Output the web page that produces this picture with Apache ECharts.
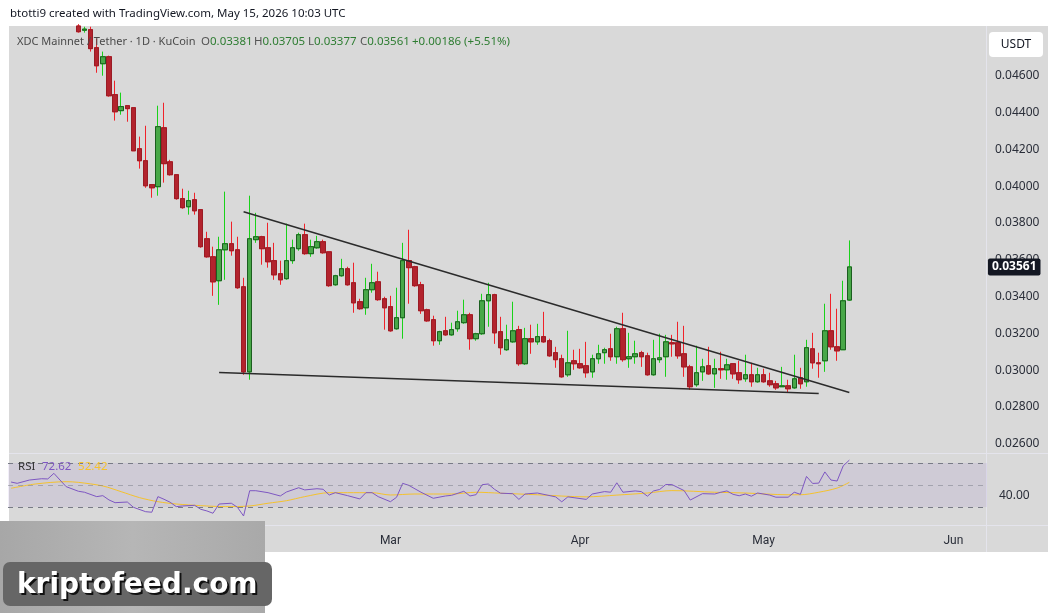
<!DOCTYPE html>
<html lang="en">
<head>
<meta charset="UTF-8">
<title>XDC / USDT 1D</title>
<script src="https://cdn.jsdelivr.net/npm/echarts@6.0.0/dist/echarts.min.js"></script>
<style>
  html, body { margin: 0; padding: 0; background: #fff; }
  #chart { width: 1057px; height: 613px; }
</style>
</head>
<body>
<div id="chart"></div>
<script>
// axis runs 160 days from 2025-12-29, first candle on 2026-01-09 (day 11)
const chartStart = Date.UTC(2025, 11, 29)
const dayCount = 160
const firstCandleDay = 11

const openPrices = [
  0.04870, 0.04847, 0.04850, 0.04752, 0.04665, 0.04703, 0.04497, 0.04410, 0.04437, 0.04426,
  0.04203, 0.04138, 0.04008, 0.03997, 0.04317, 0.04132, 0.04062, 0.03932, 0.03888, 0.03926,
  0.03872, 0.03714, 0.03616, 0.03486, 0.03654, 0.03687, 0.03654, 0.03453, 0.02991, 0.03709,
  0.03725, 0.03665, 0.03595, 0.03524, 0.03497, 0.03595, 0.03660, 0.03736, 0.03633, 0.03665,
  0.03698, 0.03643, 0.03464, 0.03513, 0.03551, 0.03475, 0.03372, 0.03339, 0.03437, 0.03480,
  0.03388, 0.03345, 0.03225, 0.03285, 0.03595, 0.03562, 0.03464, 0.03328, 0.03274, 0.03160,
  0.03214, 0.03192, 0.03225, 0.03258, 0.03301, 0.03171, 0.03198, 0.03377, 0.03410, 0.03209,
  0.03111, 0.03154, 0.03220, 0.03035, 0.03171, 0.03154, 0.03182, 0.03160, 0.03095, 0.03062,
  0.02975, 0.03051, 0.03035, 0.03024, 0.02991, 0.03062, 0.03095, 0.03116, 0.03073, 0.03225,
  0.03062, 0.03073, 0.03095, 0.03078, 0.02975, 0.03057, 0.03073, 0.03149, 0.03149, 0.03089,
  0.03018, 0.02921, 0.02991, 0.03024, 0.02980, 0.03008, 0.03002, 0.03035, 0.02986, 0.02953,
  0.02975, 0.02937, 0.02975, 0.02942, 0.02926, 0.02910, 0.02915, 0.02904, 0.02959, 0.02937,
  0.03116, 0.03040, 0.03051, 0.03214, 0.03127, 0.03111, 0.03381
]
const highPrices = [
  0.04880, 0.04866, 0.04866, 0.04801, 0.04731, 0.04709, 0.04573, 0.04508, 0.04437, 0.04426,
  0.04269, 0.04328, 0.04008, 0.04437, 0.04453, 0.04143, 0.04062, 0.03986, 0.03975, 0.03964,
  0.03872, 0.03752, 0.03671, 0.03725, 0.03970, 0.03807, 0.03725, 0.03502, 0.03948, 0.03855,
  0.03730, 0.03801, 0.03692, 0.03595, 0.03796, 0.03709, 0.03747, 0.03796, 0.03709, 0.03730,
  0.03709, 0.03643, 0.03518, 0.03605, 0.03562, 0.03584, 0.03388, 0.03502, 0.03578, 0.03535,
  0.03399, 0.03404, 0.03448, 0.03692, 0.03763, 0.03567, 0.03480, 0.03334, 0.03296, 0.03214,
  0.03290, 0.03258, 0.03323, 0.03383, 0.03312, 0.03203, 0.03415, 0.03475, 0.03415, 0.03290,
  0.03247, 0.03372, 0.03241, 0.03230, 0.03247, 0.03252, 0.03317, 0.03171, 0.03127, 0.03084,
  0.03214, 0.03111, 0.03116, 0.03154, 0.03084, 0.03138, 0.03122, 0.03198, 0.03236, 0.03312,
  0.03203, 0.03160, 0.03105, 0.03095, 0.03165, 0.03198, 0.03192, 0.03192, 0.03263, 0.03241,
  0.03029, 0.03133, 0.03062, 0.03127, 0.03062, 0.03100, 0.03062, 0.03035, 0.03051, 0.03084,
  0.03040, 0.03013, 0.03008, 0.02986, 0.02942, 0.03018, 0.02948, 0.03084, 0.03013, 0.03165,
  0.03203, 0.03095, 0.03361, 0.03415, 0.03334, 0.03486, 0.03705
]
const lowPrices = [
  0.04834, 0.04834, 0.04731, 0.04616, 0.04600, 0.04486, 0.04356, 0.04388, 0.04350, 0.04192,
  0.04095, 0.03991, 0.03937, 0.03948, 0.04019, 0.04057, 0.03926, 0.03877, 0.03845, 0.03845,
  0.03665, 0.03611, 0.03404, 0.03355, 0.03491, 0.03622, 0.03442, 0.02975, 0.02948, 0.03692,
  0.03573, 0.03557, 0.03491, 0.03464, 0.03491, 0.03578, 0.03649, 0.03627, 0.03616, 0.03660,
  0.03633, 0.03453, 0.03459, 0.03508, 0.03459, 0.03312, 0.03328, 0.03301, 0.03421, 0.03377,
  0.03220, 0.03209, 0.03220, 0.03171, 0.03361, 0.03453, 0.03306, 0.03263, 0.03133, 0.03138,
  0.03187, 0.03187, 0.03209, 0.03252, 0.03111, 0.03160, 0.03192, 0.03236, 0.03143, 0.03084,
  0.03105, 0.03149, 0.03024, 0.03029, 0.03089, 0.03138, 0.03149, 0.03073, 0.03013, 0.02959,
  0.02964, 0.03002, 0.03008, 0.02959, 0.02959, 0.03035, 0.03035, 0.03051, 0.03035, 0.03046,
  0.03013, 0.03035, 0.03018, 0.02970, 0.02970, 0.03040, 0.02964, 0.03073, 0.03062, 0.02964,
  0.02893, 0.02910, 0.02942, 0.02975, 0.02904, 0.02953, 0.02948, 0.02953, 0.02926, 0.02937,
  0.02910, 0.02932, 0.02932, 0.02910, 0.02893, 0.02910, 0.02877, 0.02899, 0.02899, 0.02910,
  0.03008, 0.02959, 0.02991, 0.03111, 0.03051, 0.03111, 0.03377
]
const closePrices = [
  0.04839, 0.04853, 0.04747, 0.04654, 0.04703, 0.04491, 0.04404, 0.04432, 0.04421, 0.04192,
  0.04138, 0.04002, 0.03991, 0.04323, 0.04122, 0.04062, 0.03932, 0.03883, 0.03921, 0.03866,
  0.03671, 0.03616, 0.03480, 0.03654, 0.03687, 0.03649, 0.03448, 0.02991, 0.03714, 0.03725,
  0.03660, 0.03589, 0.03518, 0.03491, 0.03595, 0.03665, 0.03736, 0.03633, 0.03671, 0.03698,
  0.03638, 0.03459, 0.03513, 0.03551, 0.03464, 0.03366, 0.03334, 0.03437, 0.03475, 0.03383,
  0.03339, 0.03214, 0.03285, 0.03595, 0.03557, 0.03459, 0.03323, 0.03268, 0.03160, 0.03209,
  0.03192, 0.03220, 0.03263, 0.03301, 0.03171, 0.03198, 0.03377, 0.03410, 0.03203, 0.03122,
  0.03165, 0.03214, 0.03035, 0.03171, 0.03154, 0.03182, 0.03154, 0.03078, 0.03057, 0.02964,
  0.03040, 0.03035, 0.03013, 0.02986, 0.03062, 0.03089, 0.03111, 0.03073, 0.03225, 0.03057,
  0.03073, 0.03089, 0.03073, 0.02975, 0.03062, 0.03067, 0.03154, 0.03143, 0.03078, 0.03018,
  0.02910, 0.02986, 0.03018, 0.02980, 0.03008, 0.03002, 0.03029, 0.02980, 0.02948, 0.02975,
  0.02937, 0.02975, 0.02937, 0.02921, 0.02904, 0.02915, 0.02899, 0.02953, 0.02926, 0.03122,
  0.03040, 0.03035, 0.03214, 0.03127, 0.03105, 0.03377, 0.03561
]

// RSI(14) and its moving average, read at the visible vertices (day = position on the axis)
const rsiDays = [0, 1, 3, 5, 6, 7, 8, 9, 11, 12, 14, 15, 16, 17, 19, 20, 22, 23, 24, 25,
  26, 27, 28, 30, 31, 32, 33, 34, 36, 37, 38, 39, 40, 42, 44, 45, 47, 48, 50, 51,
  52, 53, 55, 57, 58, 59, 60, 62, 63, 64, 65, 67, 69, 71, 72, 74, 75, 76, 77, 78,
  79, 80, 82, 83, 84, 86, 89, 90, 91, 94, 95, 97, 98, 99, 100, 102, 103, 104, 105, 106,
  107, 108, 110, 111, 113, 115, 116, 117, 118, 119, 120, 121, 122, 124, 125, 127, 128, 129, 130, 131,
  132, 133, 134, 135, 136, 137]
const rsiValues = [52.7, 51.5, 54.5, 55.7, 55.5, 60.6, 54.5, 48.5, 44.3, 43.4, 39.4, 40.3, 36.4, 33.9, 34.5, 29.7, 25.7, 25.2, 39.4, 37,
  34.3, 30.3, 30.9, 31.5, 27.9, 26.4, 24.3, 32.7, 33.4, 29.7, 21.8, 44.8, 44.8, 43, 40, 43.6, 47.5, 45.5, 46.6, 46.1,
  40.9, 43, 40.3, 37.3, 43, 43, 39.4, 34.8, 38.8, 51.5, 49.7, 43.4, 37.9, 40, 40.6, 44.3, 40, 41.2, 50.3, 50.9,
  46.1, 42.5, 42.1, 36.9, 41.8, 42.7, 39.2, 34.7, 39.2, 36.9, 41.8, 44, 43.4, 52, 43.4, 44.6, 44, 39.8, 44.6, 45.9,
  50.4, 50.4, 44.9, 36.3, 42.1, 41.8, 43.4, 44.6, 41.5, 40.2, 41.8, 39.8, 42.7, 40.8, 38.9, 38.9, 43.4, 41.5, 57.8, 51.4,
  51.7, 61.9, 54.5, 53.6, 67.4, 72.62]
const rsiMaDays = [0, 4, 9, 11, 15, 18, 21, 24, 27, 31, 35, 39, 42, 45, 48, 52, 55, 59, 62, 66,
  72, 76, 80, 86, 94, 99, 104, 108, 115, 120, 127, 129, 132, 135, 137]
const rsiMaValues = [47, 50.9, 53, 52.4, 49.1, 43.9, 38.5, 34.8, 32.7, 31.2, 30.3, 30.9, 33.4, 35.7, 39.4, 43, 43, 43, 40.9, 41.8,
  41.8, 43.4, 42.5, 41.1, 39.2, 40.8, 42.7, 44.9, 43.4, 42.7, 41.1, 41.1, 43.4, 47.2, 52.42]

// hand drawn wedge lines
const upperTrendDates = ['2026-02-05', '2026-05-15']
const upperTrendPrices = [0.03861, 0.02879]
const lowerTrendDates = ['2026-02-01', '2026-05-10']
const lowerTrendPrices = [0.02987, 0.02873]

const monthNames = ['Jan', 'Feb', 'Mar', 'Apr', 'May', 'Jun', 'Jul', 'Aug', 'Sep', 'Oct', 'Nov', 'Dec']
const lastPrice = 0.03561

const categories = []
for (let i = 0; i < dayCount; i++) {
  categories.push(new Date(chartStart + i * 86400000).toISOString().slice(0, 10))
}

const wickItems = openPrices.map((o, i) => [categories[firstCandleDay + i], o, closePrices[i], lowPrices[i], highPrices[i]])
const bodyItems = openPrices.map((o, i) => {
  const c = closePrices[i]
  return [categories[firstCandleDay + i], o, c, Math.min(o, c), Math.max(o, c)]
})
const rsiData = rsiDays.map((d, i) => [categories[d], rsiValues[i]])
const rsiMaData = rsiMaDays.map((d, i) => [categories[d], rsiMaValues[i]])

const font = "'Noto Sans', sans-serif"
const axisColor = '#2a2e39'
const upFill = '#48a848', upBorder = '#1c5e20', upWick = '#19d219'
const downFill = '#b3232d', downBorder = '#9a1c25', downWick = '#f0222a'

const chart = echarts.init(document.getElementById('chart'))

const legendPart = (x, key, val) => ({
  type: 'text', x: x, y: 42, z: 50,
  style: {
    text: '{k|' + key + '}{v|' + val + '}',
    textVerticalAlign: 'middle',
    rich: {
      k: { fill: '#555', font: '11.5px ' + font },
      v: { fill: '#2e7d32', font: '11.5px ' + font }
    }
  }
})

const option = {
  animation: false,
  backgroundColor: '#ffffff',
  textStyle: { fontFamily: font },
  grid: [
    { left: 8, right: 70, top: 26, height: 427 },
    { left: 8, right: 70, top: 453, height: 72 }
  ],
  xAxis: [
    {
      type: 'category', gridIndex: 0, data: categories,
      axisLine: { show: false }, axisTick: { show: false }, axisLabel: { show: false }, splitLine: { show: false }
    },
    {
      type: 'category', gridIndex: 1, data: categories,
      axisLine: { show: false }, axisTick: { show: false }, splitLine: { show: false },
      axisLabel: {
        interval: (idx, val) => val.slice(8) === '01',
        formatter: val => monthNames[+val.slice(5, 7) - 1],
        color: axisColor, fontSize: 12, margin: 10,
        fontFamily: "'Liberation Sans Narrow', 'Roboto', sans-serif"
      }
    }
  ],
  yAxis: [
    {
      type: 'value', gridIndex: 0, position: 'right',
      min: 0.0255, max: 0.0487, interval: 0.0001,
      axisLine: { show: false }, axisTick: { show: false }, splitLine: { show: false },
      axisLabel: {
        showMinLabel: false, showMaxLabel: false,
        formatter: v => Math.abs(v / 0.002 - Math.round(v / 0.002)) < 1e-6 ? v.toFixed(5) : '',
        color: axisColor, fontSize: 12, margin: 8
      }
    },
    {
      type: 'value', gridIndex: 1, position: 'right',
      min: 13.6, max: 79.1, interval: 0.2,
      axisLine: { show: false }, axisTick: { show: false }, splitLine: { show: false },
      axisLabel: {
        showMinLabel: false, showMaxLabel: false,
        formatter: v => Math.abs(v - 40) < 1e-6 ? '40.00' : '',
        color: axisColor, fontSize: 12, margin: 12
      }
    }
  ],
  graphic: [
    { type: 'rect', z: -10, shape: { x: 9, y: 26, width: 1039, height: 526 }, style: { fill: '#d9d9d9' } },
    { type: 'line', z: 1, shape: { x1: 986.5, y1: 26, x2: 986.5, y2: 552 }, style: { stroke: '#e4e4ec', lineWidth: 1 } },
    { type: 'line', z: 1, shape: { x1: 9, y1: 453.5, x2: 1048, y2: 453.5 }, style: { stroke: '#e4e4ec', lineWidth: 1 } },
    { type: 'line', z: 1, shape: { x1: 9, y1: 525.5, x2: 1048, y2: 525.5 }, style: { stroke: '#e4e4ec', lineWidth: 1 } },
    { type: 'rect', z: 50, shape: { x: 989, y: 32, width: 54, height: 25, r: 4 }, style: { fill: '#ffffff' } },
    { type: 'text', z: 51, x: 1016, y: 45, style: { text: 'USDT', fill: '#131722', font: '12px ' + font, textAlign: 'center', textVerticalAlign: 'middle' } },
    { type: 'text', z: 50, x: 10, y: 14, style: { text: 'btotti9 created with TradingView.com, May 15, 2026 10:03 UTC', fill: '#131722', font: '11.5px ' + font, textVerticalAlign: 'middle' } },
    { type: 'text', z: 50, x: 17, y: 42, style: { text: 'XDC Mainnet / Tether · 1D · KuCoin', fill: '#4a4a4a', font: '11px ' + font, textVerticalAlign: 'middle' } },
    legendPart(201, 'O', '0.03381'),
    legendPart(254, 'H', '0.03705'),
    legendPart(308, 'L', '0.03377'),
    legendPart(360, 'C', '0.03561'),
    { type: 'text', z: 50, x: 412, y: 42, style: { text: '+0.00186 (+5.51%)', fill: '#2e7d32', font: '11.5px ' + font, textVerticalAlign: 'middle' } },
    {
      type: 'text', z: 50, x: 18, y: 467,
      style: {
        text: '{a|RSI}  {b|72.62}  {c|52.42}', textVerticalAlign: 'middle',
        rich: {
          a: { fill: '#333', font: '11.5px ' + font },
          b: { fill: '#7e57c2', font: '11.5px ' + font },
          c: { fill: '#f5c22d', font: '11.5px ' + font }
        }
      }
    },
    // watermark
    {
      type: 'rect', z: 100, shape: { x: 0, y: 521, width: 265, height: 92 },
      style: {
        fill: { type: 'linear', x: 0, y: 0, x2: 1, y2: 0, colorStops: [
          { offset: 0, color: '#a7a7a7' }, { offset: 0.5, color: '#b6b6b6' }, { offset: 1, color: '#a9a9a9' }
        ] }
      }
    },
    { type: 'rect', z: 101, shape: { x: 3, y: 562, width: 269, height: 44, r: 7 }, style: { fill: '#666666' } },
    { type: 'text', z: 102, x: 19, y: 588, style: { text: 'kriptofeed.com', fill: '#111', font: "bold 28px 'DejaVu Sans', sans-serif", textVerticalAlign: 'middle' } },
    { type: 'text', z: 103, x: 17, y: 586, style: { text: 'kriptofeed.com', fill: '#ffffff', font: "bold 28px 'DejaVu Sans', sans-serif", textVerticalAlign: 'middle' } }
  ],
  series: [
    {
      name: 'wick', type: 'candlestick', xAxisIndex: 0, yAxisIndex: 0,
      data: wickItems, encode: { x: 0, y: [1, 2, 3, 4] }, barWidth: 5,
      itemStyle: { color: upFill, color0: downFill, borderColor: upWick, borderColor0: downWick, borderWidth: 1 }
    },
    {
      name: 'body', type: 'candlestick', xAxisIndex: 0, yAxisIndex: 0,
      data: bodyItems, encode: { x: 0, y: [1, 2, 3, 4] }, barWidth: 5,
      itemStyle: { color: upFill, color0: downFill, borderColor: upBorder, borderColor0: downBorder, borderWidth: 1 }
    },
    {
      name: 'upper', type: 'line', xAxisIndex: 0, yAxisIndex: 0, z: 5,
      data: upperTrendDates.map((d, i) => [d, upperTrendPrices[i]]),
      symbol: 'none', lineStyle: { color: '#2b2b2b', width: 1.5 }
    },
    {
      name: 'lower', type: 'line', xAxisIndex: 0, yAxisIndex: 0, z: 5,
      data: lowerTrendDates.map((d, i) => [d, lowerTrendPrices[i]]),
      symbol: 'none', lineStyle: { color: '#2b2b2b', width: 1.5 }
    },
    {
      name: 'RSI MA', type: 'line', xAxisIndex: 1, yAxisIndex: 1,
      data: rsiMaData, symbol: 'none', smooth: 0.3,
      lineStyle: { color: '#f5c22d', width: 1 },
      markArea: {
        silent: true,
        itemStyle: { color: 'rgba(126, 87, 194, 0.1)' },
        data: [[{ yAxis: 30 }, { yAxis: 70 }]]
      },
      markLine: {
        silent: true, symbol: 'none', label: { show: false },
        lineStyle: { color: '#787b86', type: [5, 5], width: 1 },
        data: [{ yAxis: 70 }, { yAxis: 50, lineStyle: { opacity: 0.5 } }, { yAxis: 30 }]
      }
    },
    {
      name: 'RSI', type: 'line', xAxisIndex: 1, yAxisIndex: 1, z: 4,
      data: rsiData, symbol: 'none',
      lineStyle: { color: '#7e57c2', width: 1 }
    }
  ]
}

chart.setOption(option)

// last price tag on the price scale, placed through the axis scale
const tagY = chart.convertToPixel({ yAxisIndex: 0 }, lastPrice)
const tagX = chart.convertToPixel({ xAxisIndex: 0 }, categories[dayCount - 1]) + 4
chart.setOption({
  graphic: {
    elements: [{
      id: 'lastTag', type: 'text', z: 60, x: tagX, y: tagY,
      style: {
        text: lastPrice.toFixed(5), fill: '#ffffff', font: 'bold 12px ' + font,
        textVerticalAlign: 'middle', backgroundColor: '#131722',
        padding: [3, 4, 2, 4], borderRadius: 2
      }
    }]
  }
})
</script>
</body>
</html>
